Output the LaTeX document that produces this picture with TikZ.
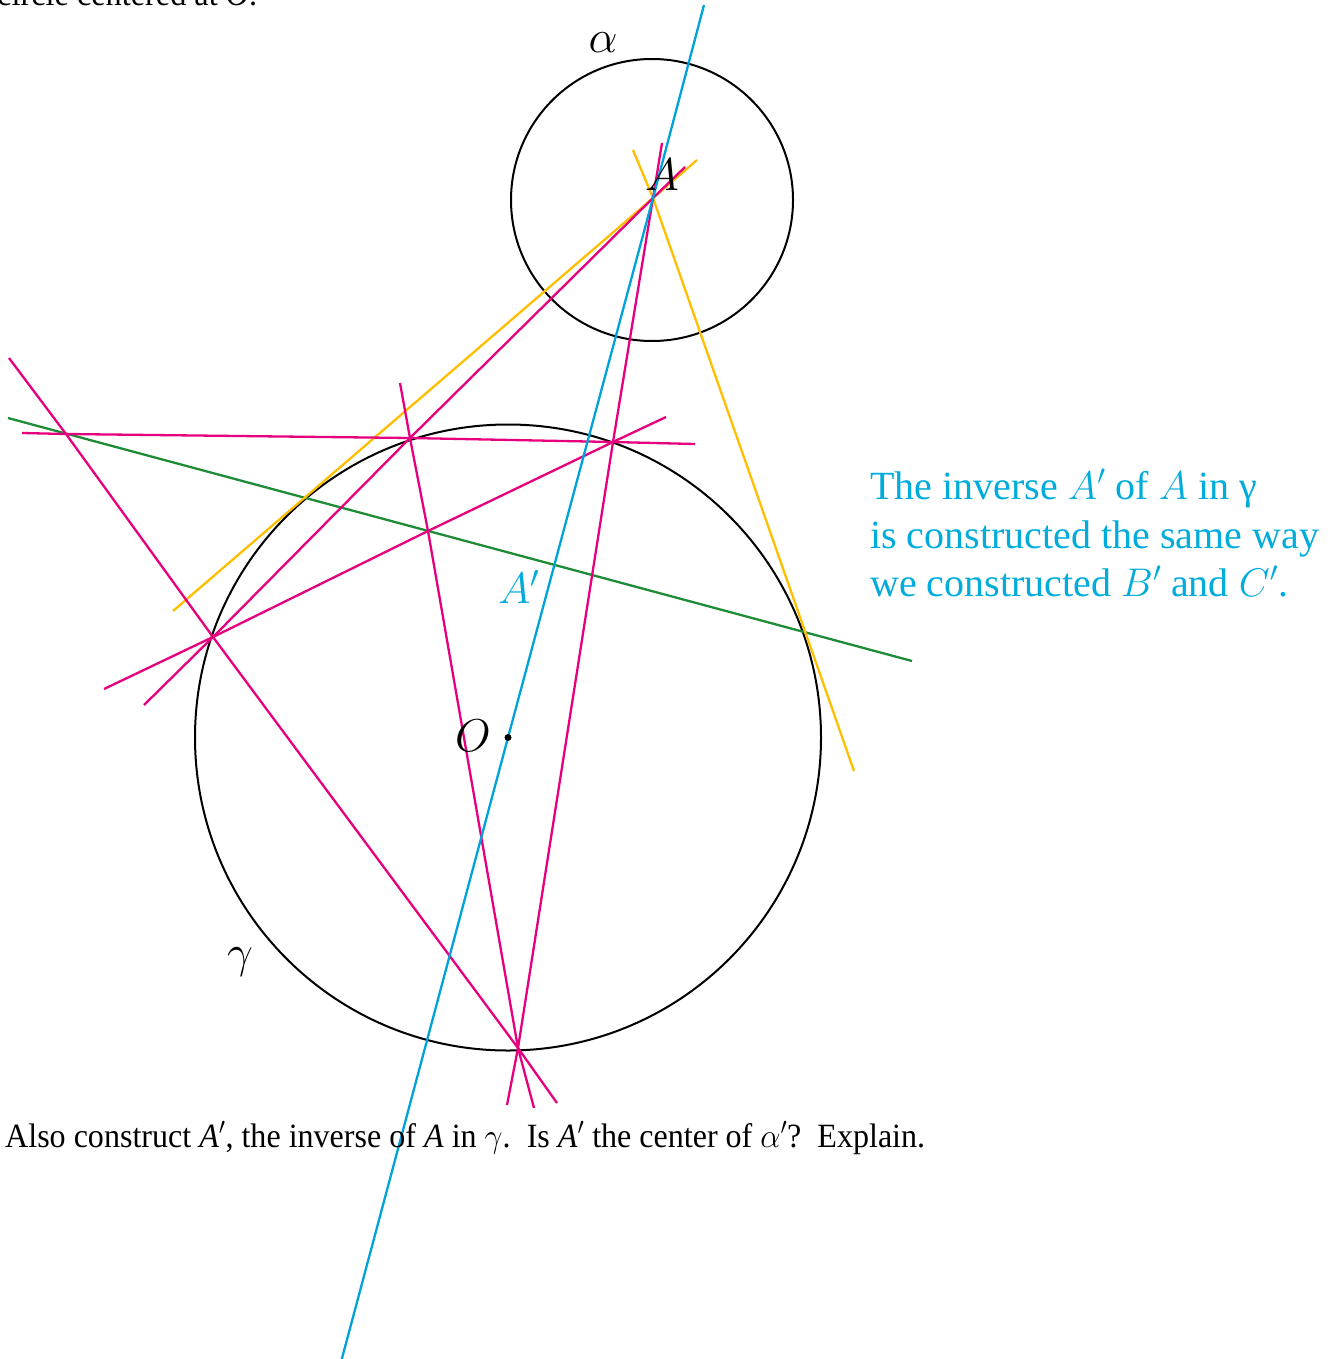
\RequirePackage{fix-cm}
\documentclass[tikz,border=0pt]{standalone}
\usepackage{fontspec}
\setmainfont{Liberation Serif}
\usepackage{graphicx}
\definecolor{mag}{RGB}{230,0,126}
\definecolor{cyn}{RGB}{0,163,217}
\definecolor{cyntext}{RGB}{0,172,220}
\definecolor{org}{RGB}{255,190,0}
\definecolor{grn}{RGB}{30,140,55}
\begin{document}
\begin{tikzpicture}[x=1pt,y=-1pt,
  magline/.style={draw=mag,line width=2.3pt},
  cynline/.style={draw=cyn,line width=2.3pt},
  orgline/.style={draw=org,line width=2.3pt},
  grnline/.style={draw=grn,line width=2.3pt},
  circ/.style={draw=black,line width=2pt},
  lbl/.style={inner sep=0pt,font=\fontsize{46}{50}\selectfont},
  side/.style={inner sep=0pt,anchor=base west,text=cyntext,font=\fontsize{40}{48}\selectfont},
  body/.style={inner sep=0pt,anchor=base west}]
\useasboundingbox (0,0) rectangle (1339,1359);
% key points
\coordinate (A) at (653,198);
\coordinate (Ac) at (652,200);
\coordinate (O) at (508,737.5);
\coordinate (P1) at (410,438);
\coordinate (P2) at (613,442);
\coordinate (P3) at (213,637);
\coordinate (P4) at (518,1048);
\coordinate (Q) at (428,531);
\coordinate (L) at (66,434);
% line ends
\coordinate (m1a) at (662,143);  \coordinate (m1b) at (507,1105);
\coordinate (m2a) at (685,167);  \coordinate (m2b) at (144,705);
\coordinate (m3a) at (22,433);   \coordinate (m3b) at (695,444);
\coordinate (m4a) at (104,689);  \coordinate (m4b) at (666,417);
\coordinate (m5a) at (400,383);  \coordinate (m5b) at (534,1108);
\coordinate (m6a) at (9,358);    \coordinate (m6b) at (557,1103);
\coordinate (o1a) at (173,611);  \coordinate (o1b) at (697,160);
\coordinate (o2a) at (633,150);  \coordinate (o2b) at (854,771);
\coordinate (ga) at (8,418);     \coordinate (gb) at (912,661);
\coordinate (ca) at (704,5);     \coordinate (cb) at (341,1362);
% circles
\draw[circ] (Ac) circle (141);
\draw[circ] (O) circle (313);
% lines
\draw[grnline] (ga) -- (gb);
\draw[orgline] (o1a) -- (A) -- (o1b);
\draw[orgline] (o2a) -- (A) -- (o2b);
\draw[magline] (m1a) -- (A) -- (P2) -- (P4) -- (m1b);
\draw[magline] (m2a) -- (A) -- (P1) -- (P3) -- (m2b);
\draw[magline] (m3a) -- (L) -- (P1) -- (P2) -- (m3b);
\draw[magline] (m4a) -- (P3) -- (Q) -- (P2) -- (m4b);
\draw[magline] (m5a) -- (P1) -- (Q) -- (P4) -- (m5b);
\draw[magline] (m6a) -- (L) -- (P3) -- (P4) -- (m6b);
\draw[cynline] (ca) -- (A) -- (O) -- (cb);
\fill (O) circle (3.5);
% labels
\node[lbl] (alpha) at (603,43) {$\alpha$};
\node[lbl] (gamma) at (240,962) {$\gamma$};
\node[lbl,anchor=base west] (olab) at (455,751) {$O$};
\node[lbl,anchor=base west] (alab) at (645,190) {$A$};
\node[lbl,anchor=base west,text=cyntext,font=\fontsize{44}{48}\selectfont] (aplab) at (498,603) {$A'$};
% side text
\node[side] (s1) at (870,499) {The inverse $A'$ of $A$ in γ};
\node[side] (s2) at (870,548) {is constructed the same way};
\node[side] (s3) at (870,596) {we constructed $B'$ and $C'$.};
% body text
\node[body] (top) at (-3,6) {\resizebox{260pt}{\height}{\fontsize{34}{40}\selectfont circle centered at \textit{O}.}};
\node[body] (bot) at (5,1147) {\resizebox{920pt}{\height}{\fontsize{34}{40}\selectfont Also construct \textit{A}$'$, the inverse of \textit{A} in $\gamma$.\ \ Is \textit{A}$'$ the center of $\alpha'$?\ \ Explain.}};
\end{tikzpicture}
\end{document}
